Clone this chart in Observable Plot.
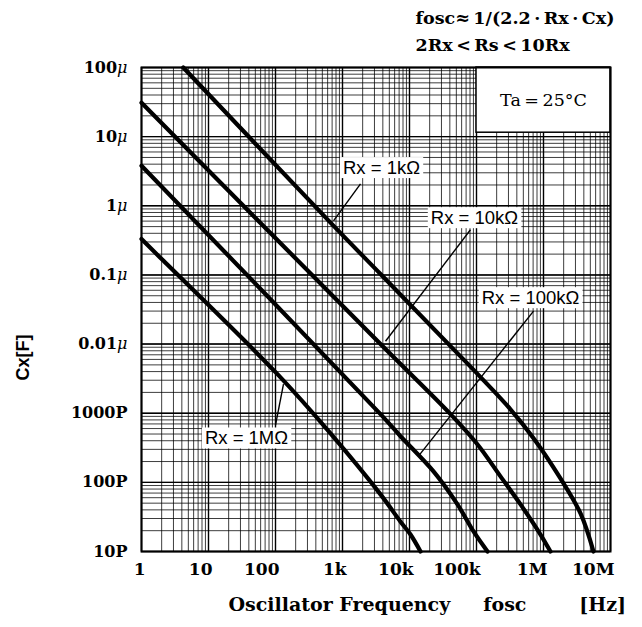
<!DOCTYPE html>
<html>
<head>
<meta charset="utf-8">
<script src="https://cdn.jsdelivr.net/npm/d3@7"></script>
<script src="https://cdn.jsdelivr.net/npm/@observablehq/plot@0.6"></script>
<style>
  html, body { margin: 0; padding: 0; background: #fff; }
</style>
</head>
<body>
<script>
// ---- tick values and labels ----
const freqTicks = [1, 10, 100, 1e3, 1e4, 1e5, 1e6, 1e7];
const freqTickLabels = ["1", "10", "100", "1k", "10k", "100k", "1M", "10M"];
const capTicks = [1e-11, 1e-10, 1e-9, 1e-8, 1e-7, 1e-6, 1e-5, 1e-4];
const capTickLabels = ["10P", "100P", "1000P", "0.01μ", "0.1μ", "1μ", "10μ", "100μ"];

// ---- curves (frequency Hz, capacitance F) ----
const rx1kF  = [4.2, 662, 3690, 40900, 114800, 321000, 710000, 1.79e6, 3.57e6, 5.57e6];
const rx1kC  = [1e-4, 5.7e-7, 1.03e-7, 9.35e-9, 3.33e-9, 1.14e-9, 4.35e-10, 1.14e-10, 3.55e-11, 1e-11];
const rx10kF = [1, 3690, 40900, 103000, 228000, 454000, 902000, 1.27e6];
const rx10kC = [3.1e-5, 1.0e-8, 9.7e-10, 3.56e-10, 1.22e-10, 4.8e-11, 1.76e-11, 1e-11];
const rx100kF = [1, 3690, 7340, 22800, 52000, 90200, 146000];
const rx100kC = [3.8e-6, 9.7e-10, 4.65e-10, 1.44e-10, 4.8e-11, 1.95e-11, 1e-11];
const rx1MF  = [1, 2.13, 107, 662, 3690, 7340, 10350, 14600];
const rx1MC  = [3.3e-7, 1.6e-7, 3.67e-9, 5.1e-10, 6.7e-11, 2.7e-11, 1.76e-11, 1e-11];

const seriesNames = ["Rx = 1kΩ", "Rx = 10kΩ", "Rx = 100kΩ", "Rx = 1MΩ"];
const seriesF = [rx1kF, rx10kF, rx100kF, rx1MF];
const seriesC = [rx1kC, rx10kC, rx100kC, rx1MC];

// ---- curve labels: label anchor and leader line (freq, cap) ----
const labelF  = [3820, 93300, 640000, 36.9];
const labelC  = [3.5e-6, 6.6e-7, 4.6e-8, 4.3e-10];
const leaderF1 = [1857, 81300, 710000, 100];
const leaderC1 = [2.08e-6, 4.5e-7, 3.0e-8, 6.7e-10];
const leaderF2 = [734, 4385, 13600, 131.6];
const leaderC2 = [6.06e-7, 1.1e-8, 2.4e-10, 2.63e-9];

// ---- condition box ----
const taBox = {f1: 1e5, f2: 1e7, c1: 1.14e-5, c2: 1e-4, text: "Ta\u2009=\u200925°C"};

const formulaLine1 = "fosc\u2248\u20091/(2.2\u2009·\u2009Rx\u2009·\u2009Cx)";
const formulaLine2 = "2Rx\u2009<\u2009Rs\u2009<\u200910Rx";
const xTitle = "Oscillator Frequency\u00a0\u00a0\u00a0\u00a0\u00a0fosc\u00a0\u00a0\u00a0\u00a0\u00a0\u00a0\u00a0\u00a0[Hz]";
const yTitle = "Cx[F]";

// ---- build tables ----
const curveRows = seriesNames.flatMap((name, i) =>
  seriesF[i].map((f, j) => ({name, f, c: seriesC[i][j]})));
const labelRows = seriesNames.map((name, i) => ({
  name, f: labelF[i], c: labelC[i],
  f1: leaderF1[i], c1: leaderC1[i], f2: leaderF2[i], c2: leaderC2[i]
}));

const xMinor = d3.scaleLog().domain([1, 1e7]).ticks(100);
const yMinor = d3.scaleLog().domain([1e-11, 1e-4]).ticks(100);

const serif = "'DejaVu Serif', 'Liberation Serif', serif";
const sans = "'Liberation Sans', Arial, sans-serif";

const chart = Plot.plot({
  width: 642,
  height: 627,
  marginLeft: 141,
  marginRight: 32,
  marginTop: 67,
  marginBottom: 76,
  style: {fontFamily: serif, background: "#fff", color: "#000"},
  x: {type: "log", domain: [1, 1e7]},
  y: {type: "log", domain: [1e-11, 1e-4]},
  marks: [
    Plot.ruleX(xMinor, {stroke: "#000", strokeWidth: 0.9, strokeOpacity: 0.85}),
    Plot.ruleY(yMinor, {stroke: "#000", strokeWidth: 0.9, strokeOpacity: 0.85}),
    Plot.ruleX(freqTicks, {stroke: "#000", strokeWidth: 1.4}),
    Plot.ruleY(capTicks, {stroke: "#000", strokeWidth: 1.4}),
    Plot.rect([taBox], {x1: "f1", x2: "f2", y1: "c1", y2: "c2", fill: "#fff", stroke: "#000", strokeWidth: 1.5}),
    Plot.text([taBox], {x: d => Math.sqrt(d.f1 * d.f2), y: d => Math.sqrt(d.c1 * d.c2), text: "text",
      fontSize: 17.5, fontFamily: serif, fill: "#000"}),
    Plot.line(curveRows, {x: "f", y: "c", z: "name", stroke: "#000", strokeWidth: 4.2, curve: "catmull-rom"}),
    Plot.link(labelRows, {x1: "f1", y1: "c1", x2: "f2", y2: "c2", stroke: "#000", strokeWidth: 1.4}),
    Plot.text(labelRows, {x: "f", y: "c", text: "name", fontSize: 18.5, fontFamily: sans, fill: "#000"}),
    Plot.frame({stroke: "#000", strokeWidth: 2}),
    Plot.axisX({ticks: freqTicks, tickFormat: d => freqTickLabels[freqTicks.indexOf(d)], tickSize: 0, tickPadding: 11,
      textAnchor: "end", dx: 4,
      fontSize: 17, fontWeight: "bold", fontFamily: serif, label: null}),
    Plot.axisY({ticks: capTicks, tickFormat: d => capTickLabels[capTicks.indexOf(d)], tickSize: 0, tickPadding: 14,
      fontSize: 16, fontWeight: "bold", fontFamily: serif, label: null}),
    Plot.text([formulaLine1], {frameAnchor: "top-left", dx: 274, dy: -56, text: d => d,
      textAnchor: "start", fontSize: 17.5, fontWeight: "bold", fontFamily: serif}),
    Plot.text([formulaLine2], {frameAnchor: "top-left", dx: 274, dy: -29, text: d => d,
      textAnchor: "start", fontSize: 17.5, fontWeight: "bold", fontFamily: serif}),
    Plot.text([xTitle], {frameAnchor: "bottom-left", dx: 87, dy: 59, text: d => d, textAnchor: "start",
      fontSize: 19, fontWeight: "bold", fontFamily: serif}),
    Plot.text([yTitle], {frameAnchor: "left", dx: -118, dy: 71, rotate: -90, text: d => d,
      fontSize: 18, fontWeight: "bold", fontFamily: sans})
  ]
});

document.body.append(chart);

// white boxes behind curve labels
d3.select(chart).selectAll("text")
  .filter(function () { return seriesNames.includes(this.textContent); })
  .each(function () {
    const bb = this.getBBox();
    const t = this.getAttribute("transform");
    const r = d3.select(this.parentNode).insert("rect", () => this)
      .attr("x", bb.x - 3).attr("y", bb.y)
      .attr("width", bb.width + 6).attr("height", bb.height)
      .attr("fill", "#fff");
    if (t) r.attr("transform", t);
  });

// italic micro sign on y tick labels
d3.select(chart).selectAll("text")
  .filter(function () { return capTickLabels.includes(this.textContent) && this.textContent.includes("μ"); })
  .each(function () {
    const t = this.textContent;
    const base = t.replace("μ", "");
    const sel = d3.select(this);
    sel.text(null);
    sel.append("tspan").text(base);
    sel.append("tspan").attr("font-style", "italic").attr("font-weight", "normal").text("μ");
  });
</script>
</body>
</html>
